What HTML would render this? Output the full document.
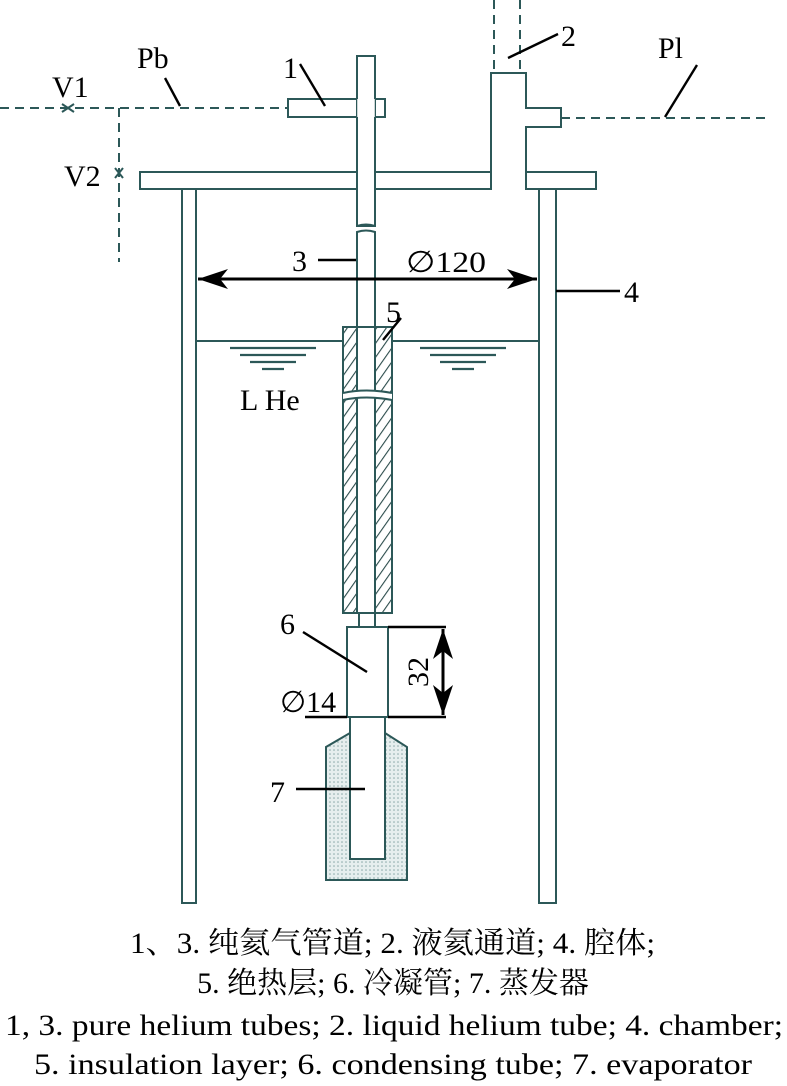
<!DOCTYPE html>
<html><head><meta charset="utf-8"><style>
body{margin:0;background:#fff;width:787px;height:1086px;overflow:hidden}
svg{display:block}
.c{font-family:"Liberation Serif","Noto Serif CJK SC","Noto Sans CJK SC",serif;font-size:30px;fill:#000}
</style></head><body>
<svg width="787" height="1086" viewBox="0 0 787 1086" xmlns="http://www.w3.org/2000/svg">
<defs>
<pattern id="h" width="8" height="8" patternUnits="userSpaceOnUse" patternTransform="rotate(35)">
<rect width="8" height="8" fill="#fff"/><line x1="0" y1="0" x2="0" y2="8" stroke="#2c4c4c" stroke-width="2.2"/></pattern>
<pattern id="d" width="4" height="4" patternUnits="userSpaceOnUse">
<rect width="4" height="4" fill="#e6eeee"/><circle cx="2" cy="2" r="0.8" fill="#8aa8a8"/></pattern>
<marker id="a" viewBox="0 0 30 20" refX="30" refY="10" markerWidth="30" markerHeight="20" markerUnits="userSpaceOnUse" orient="auto-start-reverse"><path d="M0,0 L30,10 L0,20 L8,10 Z" fill="#000"/></marker>
</defs>
<g stroke="#2c5858" stroke-width="2" fill="#fff">
<g stroke-dasharray="9,6" fill="none">
<line x1="0" y1="108" x2="288" y2="108"/>
<line x1="119" y1="108" x2="119" y2="262"/>
<line x1="561" y1="118" x2="765" y2="118"/>
<line x1="494" y1="0" x2="494" y2="73"/>
<line x1="520" y1="0" x2="520" y2="73"/>
</g>
<path d="M62,104 L74,112 M62,112 L74,104" fill="none"/>
<path d="M115,168 L123,178 M123,168 L115,178" fill="none"/>
<rect x="182" y="189" width="14" height="714"/>
<rect x="539" y="189" width="17" height="714"/>
<rect x="140" y="172" width="456" height="17"/>
<path d="M491,189 L491,73 L526,73 L526,108 L561,108 L561,127 L526,127 L526,189"/>
<rect x="492" y="171" width="33" height="19" stroke="none"/>
<rect x="288" y="99" width="97" height="18"/>
<rect x="357" y="56" width="18" height="170"/>
<line x1="358" y1="99" x2="358" y2="117" stroke="#fff" stroke-width="1.5"/>
<line x1="374" y1="99" x2="374" y2="117" stroke="#fff" stroke-width="1.5"/>
<path d="M357,226 Q366,223 375,226" fill="none"/>
<line x1="196" y1="341" x2="539" y2="341"/>
<path d="M357,232 Q366,229 375,232 L375,327 L357,327 Z"/>
<rect x="343" y="327" width="49" height="286" fill="url(#h)"/>
<rect x="357" y="327" width="18" height="286"/>
<path d="M343,393 Q366,388 392,393 L392,400 Q366,395 343,400 Z" fill="#fff" stroke="none"/>
<path d="M343,393 Q366,388 392,393 M343,400 Q366,395 392,400" fill="none"/>
<rect x="359" y="613" width="16" height="15"/>
<path d="M350,733 L326,747 L326,880 L407,880 L407,747 L385,733 Z" fill="url(#d)"/>
<rect x="350" y="716" width="35" height="143"/>
<rect x="347" y="627" width="41" height="90"/>
</g>
<g stroke="#2c5858" stroke-width="2.2">
<line x1="230" y1="348" x2="316" y2="348"/><line x1="240" y1="355" x2="306" y2="355"/><line x1="250" y1="362" x2="296" y2="362"/><line x1="262" y1="369" x2="284" y2="369"/>
<line x1="420" y1="348" x2="506" y2="348"/><line x1="430" y1="355" x2="496" y2="355"/><line x1="440" y1="362" x2="486" y2="362"/><line x1="452" y1="369" x2="474" y2="369"/>
</g>
<g stroke="#000" stroke-width="2.4" fill="none">
<line x1="300" y1="64" x2="325" y2="106"/>
<line x1="508" y1="58" x2="558" y2="34"/>
<line x1="165" y1="78" x2="180" y2="106"/>
<line x1="665" y1="117" x2="697" y2="65"/>
<line x1="318" y1="260" x2="356" y2="260"/>
<line x1="556" y1="291" x2="620" y2="291"/>
<line x1="383" y1="340" x2="401" y2="318"/>
<line x1="198" y1="279" x2="537" y2="279" stroke-width="3" marker-start="url(#a)" marker-end="url(#a)"/>
<line x1="303" y1="632" x2="367" y2="672"/>
<line x1="305" y1="717" x2="347" y2="717"/>
<line x1="296" y1="789" x2="365" y2="789"/>
<line x1="388" y1="627" x2="446" y2="627"/>
<line x1="388" y1="717" x2="446" y2="717"/>
<line x1="443" y1="629" x2="443" y2="715" stroke-width="3" marker-start="url(#a)" marker-end="url(#a)"/>
</g>
<g font-family="Liberation Serif, serif" font-size="30" fill="#000">
<text x="283" y="78">1</text>
<text x="561" y="46">2</text>
<text x="137" y="68">Pb</text>
<text x="658" y="58">Pl</text>
<text x="52" y="97">V1</text>
<text x="64" y="186">V2</text>
<text x="292" y="271">3</text>
<text x="406" y="272" textLength="80" lengthAdjust="spacingAndGlyphs">∅120</text>
<text x="624" y="302">4</text>
<text x="386" y="322">5</text>
<text x="240" y="410">L He</text>
<text x="280" y="634">6</text>
<text x="280" y="712">∅14</text>
<text x="270" y="802">7</text>
<text transform="translate(428,672) rotate(-90)" text-anchor="middle">32</text>
</g>
<text class="c" x="130" y="953" textLength="525" lengthAdjust="spacingAndGlyphs">1、3. 纯氦气管道; 2. 液氦通道; 4. 腔体;</text>
<text class="c" x="393" y="993" text-anchor="middle">5. 绝热层; 6. 冷凝管; 7. 蒸发器</text>
<text class="c" x="5" y="1035" textLength="778" lengthAdjust="spacingAndGlyphs">1, 3. pure helium tubes; 2. liquid helium tube; 4. chamber;</text>
<text class="c" x="34" y="1074" textLength="718" lengthAdjust="spacingAndGlyphs">5. insulation layer; 6.  condensing tube; 7. evaporator</text>
</svg>
</body></html>
